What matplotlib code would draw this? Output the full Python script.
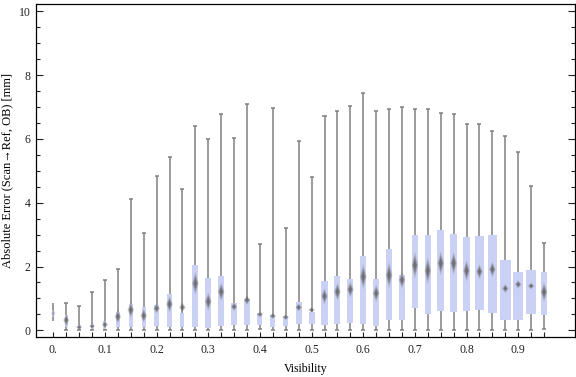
import matplotlib
matplotlib.use("Agg")
import matplotlib.pyplot as plt
from matplotlib.patches import Polygon
from matplotlib.ticker import MultipleLocator

plt.rcParams["font.family"] = ["Liberation Serif", "DejaVu Serif"]

# visibility bins (box centres)
visibility = [0.0, 0.025, 0.05, 0.075, 0.1, 0.125, 0.15, 0.175, 0.2, 0.225,
              0.25, 0.275, 0.3, 0.325, 0.35, 0.375, 0.4, 0.425, 0.45, 0.475,
              0.5, 0.525, 0.55, 0.575, 0.6, 0.625, 0.65, 0.675, 0.7, 0.725,
              0.75, 0.775, 0.8, 0.825, 0.85, 0.875, 0.9, 0.925, 0.95]

# whisker ends, quartiles and mean marker [mm]
lo = [0.30, 0.0, 0.0, 0.0, 0.0, 0.0, 0.0, 0.0, 0.0, 0.0,
      0.0, 0.0, 0.0, 0.0, 0.0, 0.0, 0.04, 0.02, 0.0, 0.0,
      0.0, 0.0, 0.0, 0.0, 0.0, 0.0, 0.0, 0.0, 0.0, 0.0,
      0.0, 0.0, 0.0, 0.0, 0.0, 0.0, 0.0, 0.0, 0.03]
q1 = [0.43, 0.10, 0.04, 0.04, 0.05, 0.10, 0.10, 0.10, 0.13, 0.10,
      0.10, 0.10, 0.08, 0.13, 0.16, 0.16, 0.18, 0.11, 0.14, 0.21,
      0.21, 0.18, 0.21, 0.24, 0.21, 0.15, 0.32, 0.32, 0.71, 0.52,
      0.60, 0.58, 0.60, 0.64, 0.55, 0.32, 0.32, 0.52, 0.49]
means = [0.53, 0.32, 0.10, 0.13, 0.18, 0.43, 0.64, 0.46, 0.69, 0.82,
         0.72, 1.47, 0.90, 1.21, 0.74, 0.95, 0.50, 0.45, 0.41, 0.72,
         0.64, 1.07, 1.21, 1.28, 1.68, 1.16, 1.73, 1.58, 2.04, 1.87,
         2.10, 2.10, 1.87, 1.84, 1.91, 1.31, 1.44, 1.39, 1.20]
q3 = [0.63, 0.48, 0.17, 0.19, 0.30, 0.57, 0.82, 0.73, 0.79, 1.14,
      0.54, 2.04, 1.63, 1.70, 0.86, 0.98, 0.53, 0.48, 0.45, 0.89,
      0.57, 1.54, 1.70, 1.61, 2.33, 1.60, 2.55, 1.73, 2.98, 2.98,
      3.14, 3.02, 2.91, 2.95, 2.98, 2.20, 1.83, 1.89, 1.83]
hi = [0.86, 0.85, 0.75, 1.19, 1.57, 1.91, 4.10, 3.04, 4.84, 5.44,
      4.42, 6.39, 6.01, 6.77, 6.04, 7.08, 2.72, 6.98, 3.22, 5.92,
      4.79, 6.73, 6.86, 7.02, 7.45, 6.86, 6.92, 7.01, 6.92, 6.95,
      6.80, 6.77, 6.48, 6.48, 6.23, 6.10, 5.60, 4.51, 2.73]

# box widths in pixels (they differ from bin to bin in the original)
box_px = [2, 3, 3, 3, 3, 3.3, 4, 4, 5, 5,
          4, 6, 6, 6, 6, 6, 5, 5, 5, 6,
          6, 6, 6, 6, 6, 6, 6, 6, 6, 6.3,
          7, 7, 7, 9, 9, 11, 10, 10.7, 5.3]

PX = 1 / 516.5  # data units of x per pixel
BOX_COLOR = "#cbd1f4"
WHISKER = "#808080"

fig = plt.figure(figsize=(5.76, 3.77), dpi=100)
ax = fig.add_axes([0.0625, 0.106, 0.936, 0.883])

widths = [w * PX for w in box_px]

ax.vlines(visibility, lo, hi, color=WHISKER, lw=1.1, zorder=1)
cap = 4 * PX
ax.hlines(hi[1:], [v - cap / 2 for v in visibility[1:]],
          [v + cap / 2 for v in visibility[1:]], color=WHISKER, lw=1.1, zorder=1)
ax.hlines(lo[1:], [v - cap / 2 for v in visibility[1:]],
          [v + cap / 2 for v in visibility[1:]], color=WHISKER, lw=1.1, zorder=1)

heights = [b - a for a, b in zip(q1, q3)]
ax.bar(visibility, heights, bottom=q1, width=widths, color=BOX_COLOR,
       edgecolor="none", zorder=2)

# blurred diamond for the mean
for x, m, a, b, w in zip(visibility, means, q1, q3, box_px):
    iqr = b - a
    hh = max(1.9 * iqr / w ** 1.5, 0.06)
    hw = min(2.3, w / 2 + 0.6) * PX
    alpha = 0.35 if w < 2.5 else 1.0
    for s, al in [(1.5, 0.18), (1.2, 0.3), (0.9, 0.5), (0.6, 0.7)]:
        pts = [(x - hw * s, m), (x, m + hh * s), (x + hw * s, m), (x, m - hh * s)]
        ax.add_patch(Polygon(pts, closed=True, facecolor="#666666",
                             edgecolor="none", alpha=al * alpha, zorder=3))

ax.set_xlim(-0.0335, 1.0102)
ax.set_ylim(-0.21, 10.22)

ax.set_xticks([0.0, 0.1, 0.2, 0.3, 0.4, 0.5, 0.6, 0.7, 0.8, 0.9])
ax.set_xticklabels(["0.", "0.1", "0.2", "0.3", "0.4", "0.5", "0.6", "0.7", "0.8", "0.9"])
ax.set_xticks(visibility, minor=True)
ax.yaxis.set_major_locator(MultipleLocator(2))
ax.yaxis.set_minor_locator(MultipleLocator(0.5))

ax.tick_params(axis="both", which="both", direction="in", colors="#222222",
               labelsize=8.5, width=0.8)
ax.tick_params(axis="x", which="both", length=3.5, pad=5, top=False)
ax.tick_params(axis="y", which="major", length=5, right=True, pad=4)
ax.tick_params(axis="y", which="minor", length=3, right=True)

for sp in ax.spines.values():
    sp.set_linewidth(0.9)
    sp.set_color("black")

ax.set_xlabel("Visibility", fontsize=8.5, labelpad=5)
ax.set_ylabel("Absolute Error (Scan\u2192Ref, OB) [mm]", fontsize=9)
ax.yaxis.set_label_coords(-0.043, 0.5)

fig.savefig("out.png", dpi=100)
